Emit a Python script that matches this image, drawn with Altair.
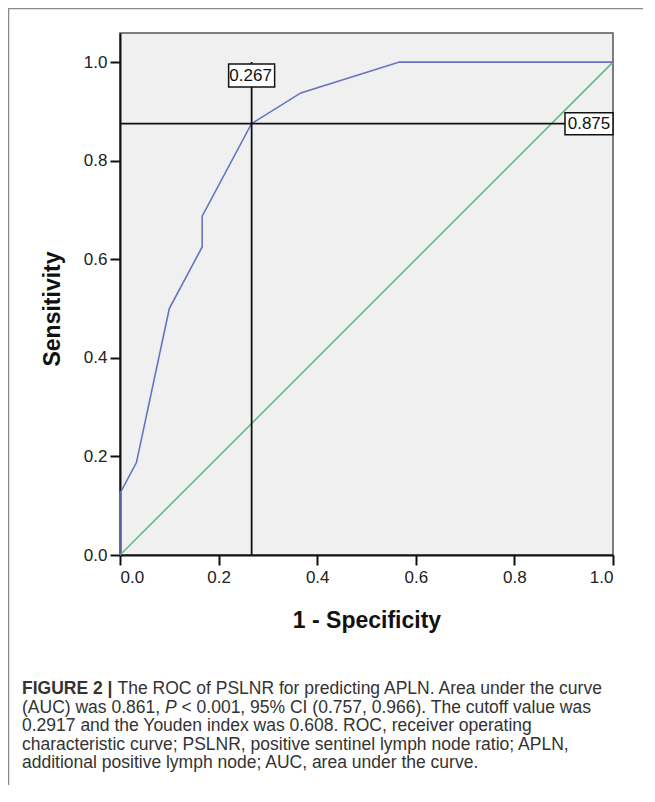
import altair as alt
import pandas as pd

# ROC curve (1 - specificity, sensitivity)
fpr = [0.0, 0.0, 0.0333, 0.1, 0.1667, 0.1667, 0.2667, 0.3667, 0.5667, 1.0]
tpr = [0.0, 0.125, 0.1875, 0.5, 0.625, 0.6875, 0.875, 0.9375, 1.0, 1.0]
# reference diagonal
ref_x = [0.0, 1.0]
ref_y = [0.0, 1.0]
# optimal cut-off point
cut_fpr = 0.267
cut_tpr = 0.875
cut_labels = ["0.267", "0.875"]
ticks = [0.0, 0.2, 0.4, 0.6, 0.8, 1.0]

caption_line1_bold = "FIGURE 2 |"
caption_line1 = "The ROC of PSLNR for predicting APLN. Area under the curve"
caption_line2a = "(AUC) was 0.861,"
caption_line2_italic = "P"
caption_line2b = "< 0.001, 95% CI (0.757, 0.966). The cutoff value was"
caption_lines_rest = [
    "0.2917 and the Youden index was 0.608. ROC, receiver operating",
    "characteristic curve; PSLNR, positive sentinel lymph node ratio; APLN,",
    "additional positive lymph node; AUC, area under the curve.",
]

FONT = "Liberation Sans"

roc_df = pd.DataFrame({"fpr": fpr, "tpr": tpr, "i": list(range(len(fpr)))})
ref_df = pd.DataFrame({"fpr": ref_x, "tpr": ref_y})
one = pd.DataFrame({"a": [0]})

x_axis = alt.Axis(values=ticks, format=".1f", title="1 - Specificity", grid=False,
                  domainColor="#111111", domainWidth=2, tickColor="#111111", tickWidth=2,
                  tickSize=10, labelFont=FONT, labelFontSize=17, labelColor="#222222",
                  labelPadding=4, titleFont=FONT, titleFontSize=23, titleFontWeight="bold",
                  titleColor="#111111", titleX=246.5, titleY=72, titleAlign="center",
                  titleBaseline="alphabetic")
y_axis = alt.Axis(values=ticks, format=".1f", title="Sensitivity", grid=False,
                  domainColor="#111111", domainWidth=2, tickColor="#111111", tickWidth=2,
                  tickSize=10, labelFont=FONT, labelFontSize=17, labelColor="#222222",
                  labelPadding=3, titleFont=FONT, titleFontSize=23, titleFontWeight="bold",
                  titleColor="#111111", titleX=-61, titleY=275.5, titleAngle=270,
                  titleAlign="center", titleBaseline="alphabetic")

xs = alt.Scale(domain=[0, 1], nice=False, zero=False)
ys = alt.Scale(domain=[0, 1.059], nice=False, zero=False)

frame = alt.Chart(one).mark_rect(fill="white", fillOpacity=0, stroke="#8a8a8a", strokeWidth=1.5).encode(
    x=alt.value(-111.5), x2=alt.value(3000), y=alt.value(-24.5), y2=alt.value(3000))

diag = alt.Chart(ref_df).mark_line(color="#5cbf7d", strokeWidth=1.6).encode(
    x=alt.X("fpr:Q", scale=xs, axis=x_axis),
    y=alt.Y("tpr:Q", scale=ys, axis=y_axis))

roc = alt.Chart(roc_df).mark_line(color="#6674c0", strokeWidth=1.6).encode(
    x=alt.X("fpr:Q", scale=xs), y=alt.Y("tpr:Q", scale=ys), order="i:O")

vrule = alt.Chart(pd.DataFrame({"x": [cut_fpr], "y": [0.0], "y2": [1.0]})).mark_rule(
    color="#111111", strokeWidth=1.8).encode(x="x:Q", y="y:Q", y2="y2:Q")
hrule = alt.Chart(pd.DataFrame({"y": [cut_tpr], "x": [0.0], "x2": [1.0]})).mark_rule(
    color="#111111", strokeWidth=1.8).encode(y="y:Q", x="x:Q", x2="x2:Q")

box1_df = pd.DataFrame({"x": [cut_fpr], "y": [1.0], "label": [cut_labels[0]]})
box1 = alt.Chart(box1_df).mark_rect(fill="white", stroke="#111111", strokeWidth=1.5,
                                    xOffset=-23, x2Offset=23, yOffset=2, y2Offset=25).encode(
    x="x:Q", x2="x:Q", y="y:Q", y2="y:Q")
text1 = alt.Chart(box1_df).mark_text(font=FONT, fontSize=17, color="#111111", align="center",
                                     baseline="middle", dx=-1, dy=13.5).encode(x="x:Q", y="y:Q", text="label:N")

box2_df = pd.DataFrame({"x": [1.0], "y": [cut_tpr], "label": [cut_labels[1]]})
box2 = alt.Chart(box2_df).mark_rect(fill="white", stroke="#111111", strokeWidth=1.5,
                                    xOffset=-48, x2Offset=0, yOffset=-11, y2Offset=11).encode(
    x="x:Q", x2="x:Q", y="y:Q", y2="y:Q")
text2 = alt.Chart(box2_df).mark_text(font=FONT, fontSize=17, color="#111111", align="center",
                                     baseline="middle", dx=-24).encode(x="x:Q", y="y:Q", text="label:N")

CAP = 17.5
CAPCOL = "#333333"
def cap(txt, x, y, **kw):
    return alt.Chart(one).mark_text(font=FONT, fontSize=CAP, color=CAPCOL, align="left",
                                    baseline="alphabetic", **kw).encode(
        x=alt.value(x), y=alt.value(y), text=alt.value(txt))

base_y = 661
step = 18.6
caps = [
    cap(caption_line1_bold, -98, base_y, fontWeight="bold"),
    cap(caption_line1, -2.5, base_y),
    cap(caption_line2a, -98, base_y + step),
    cap(caption_line2_italic, 45, base_y + step, fontStyle="italic"),
    cap(caption_line2b, 61.5, base_y + step),
]
for k, line in enumerate(caption_lines_rest):
    caps.append(cap(line, -98, base_y + step * (k + 2)))

chart = alt.layer(frame, diag, roc, vrule, hrule, box1, text1, box2, text2, *caps).properties(
    width=493, height=522,
    autosize=alt.AutoSizeParams(type="none"),
    padding={"left": 112, "top": 25, "right": 30, "bottom": 230},
).configure_view(fill="#f0f0f0", stroke="#555555", strokeWidth=1.5)

chart.save("out.html", embed_options={"renderer": "svg", "actions": False})
